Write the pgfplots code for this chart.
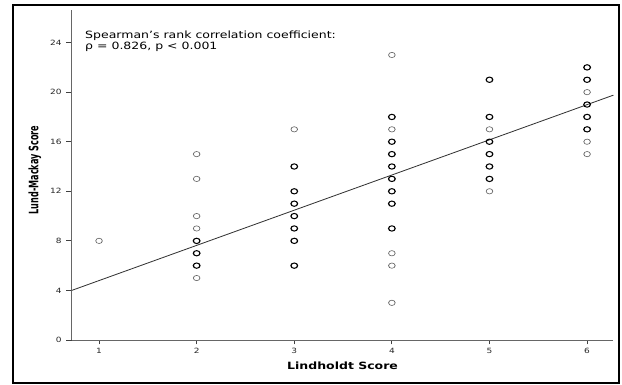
\documentclass[border=0pt]{standalone}
\usepackage{pgfplots}
\pgfplotsset{compat=1.18}
\usepackage{fontspec}
\setmainfont{DejaVu Sans}
\begin{document}
\scalebox{1.25}[1]{%
\begin{tikzpicture}
\useasboundingbox (-57.36pt,-45pt) rectangle (440.24pt,340pt);
\draw[line width=1.7pt] (-46.96pt,-43pt) rectangle (437.84pt,335pt);
\begin{axis}[
  scale only axis,
  width=433.4pt, height=330pt,
  xmin=0.72, xmax=6.27, ymin=0, ymax=26.63,
  axis x line=bottom, axis y line=left,
  axis line style={draw=black!60, line width=0.8pt, -},
  xtick={1,2,3,4,5,6}, ytick={0,4,8,12,16,20,24},
  tick align=outside, major tick length=4.5pt,
  tick style={draw=black!75, line width=0.8pt},
  /pgf/number format/assume math mode=true,
  ticklabel style={font=\fontsize{7.2}{8}\selectfont, text=black!85},
  xlabel={\bfseries Lindholdt Score},
  ylabel={\scalebox{0.78}[1]{\bfseries Lund-Mackay Score}},
  xlabel style={font=\fontsize{10}{12}\selectfont, at={([yshift=-26pt]axis description cs:0.5,0)}, anchor=center},
  ylabel style={font=\fontsize{10.4}{12}\selectfont, at={([xshift=-29.4pt]axis description cs:0,0.515)}, anchor=center},
  clip=false,
]
\addplot[draw=black!80, line width=0.8pt] coordinates {(0.72,4.0) (6.27,19.76)};
\addplot[only marks, mark=o, mark size=2.65pt, draw=black!60, line width=0.6pt] coordinates {
(1,8)
(2,15) (2,13) (2,10) (2,9) (2,5)
(3,17)
(4,23) (4,17) (4,7) (4,6) (4,3)
(5,17) (5,12)
(6,20) (6,16) (6,15)
};
\addplot[only marks, mark=o, mark size=2.65pt, draw=black, line width=1pt] coordinates {
(2,8) (2,7) (2,6)
(3,14) (3,12) (3,11) (3,10) (3,9) (3,8) (3,6)
(4,18) (4,16) (4,15) (4,14) (4,13) (4,12) (4,11) (4,9)
(5,21) (5,18) (5,16) (5,15) (5,14) (5,13)
(6,22) (6,21) (6,19) (6,18) (6,17)
};
\node[anchor=north west, align=left, inner sep=0pt, font=\fontsize{10}{8.5}\selectfont]
  at (axis cs:0.856,24.95) {Spearman's rank correlation coefficient:\\ρ = 0.826, p < 0.001};
\end{axis}
\end{tikzpicture}}
\end{document}
